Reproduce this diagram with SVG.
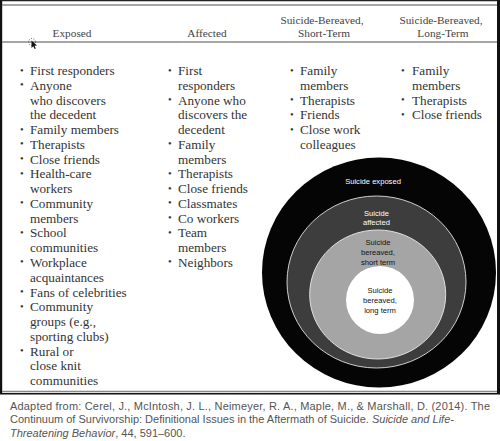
<svg xmlns="http://www.w3.org/2000/svg" width="500" height="441" viewBox="0 0 500 441">
<style>
.h{font-family:"Liberation Serif",serif;font-size:11.3px;fill:#444;text-anchor:middle}
.b{font-family:"Liberation Serif",serif;font-size:13.2px;fill:#333}
.bl{font-family:"Liberation Serif",serif;font-size:10.5px;fill:#333}
.c{font-family:"Liberation Sans",sans-serif;font-size:7.6px;text-anchor:middle}
.f{font-family:"Liberation Sans",sans-serif;font-size:11px;fill:#555}
.rule{stroke:#888;stroke-width:1.5}
</style>
<rect width="500" height="441" fill="#fff"/>
<g id="frame">
<rect x="0" y="0" width="2.2" height="394" fill="#111"/>
<rect x="497" y="0" width="3" height="394" fill="#111"/>
<line x1="2" y1="0.6" x2="497" y2="0.6" stroke="#222" stroke-width="1.2"/>
<line class="rule" x1="2" y1="5" x2="497" y2="5"/>
<line class="rule" x1="2" y1="42" x2="497" y2="42"/>
<line class="rule" x1="2" y1="391.5" x2="497" y2="391.5"/>
<line x1="0" y1="393.8" x2="500" y2="393.8" stroke="#111" stroke-width="1.6"/>
</g>
<g id="cursor">
<circle cx="32" cy="42" r="3.5" fill="none" stroke="#333" stroke-width="0.8" stroke-dasharray="1 1.5"/>
<path d="M31.5,40.5 L31.5,48 L33.3,46.3 L34.6,49 L35.8,48.4 L34.5,45.8 L37,45.6 Z" fill="#111"/>
</g>
<g id="headers">
<text class="h" x="72" y="37">Exposed</text>
<text class="h" x="207" y="37">Affected</text>
<text class="h" x="322" y="24">Suicide-Bereaved,</text>
<text class="h" x="324" y="37">Short-Term</text>
<text class="h" x="441" y="24">Suicide-Bereaved,</text>
<text class="h" x="443" y="37">Long-Term</text>
</g>
<g id="col-exposed">
<text class="b" x="30" y="75"><tspan x="30">First responders</tspan><tspan x="30" dy="14.77">Anyone</tspan><tspan x="30" dy="14.77">who discovers</tspan><tspan x="30" dy="14.77">the decedent</tspan><tspan x="30" dy="14.77">Family members</tspan><tspan x="30" dy="14.77">Therapists</tspan><tspan x="30" dy="14.77">Close friends</tspan><tspan x="30" dy="14.77">Health-care</tspan><tspan x="30" dy="14.77">workers</tspan><tspan x="30" dy="14.77">Community</tspan><tspan x="30" dy="14.77">members</tspan><tspan x="30" dy="14.77">School</tspan><tspan x="30" dy="14.77">communities</tspan><tspan x="30" dy="14.77">Workplace</tspan><tspan x="30" dy="14.77">acquaintances</tspan><tspan x="30" dy="14.77">Fans of celebrities</tspan><tspan x="30" dy="14.77">Community</tspan><tspan x="30" dy="14.77">groups (e.g.,</tspan><tspan x="30" dy="14.77">sporting clubs)</tspan><tspan x="30" dy="14.77">Rural or</tspan><tspan x="30" dy="14.77">close knit</tspan><tspan x="30" dy="14.77">communities</tspan></text>
<text class="bl" x="20" y="73.5">•</text>
<text class="bl" x="20" y="88.3">•</text>
<text class="bl" x="20" y="132.5">•</text>
<text class="bl" x="20" y="147.3">•</text>
<text class="bl" x="20" y="162">•</text>
<text class="bl" x="20" y="176.8">•</text>
<text class="bl" x="20" y="206.3">•</text>
<text class="bl" x="20" y="235.8">•</text>
<text class="bl" x="20" y="265.3">•</text>
<text class="bl" x="20" y="294.8">•</text>
<text class="bl" x="20" y="309.5">•</text>
<text class="bl" x="20" y="353.8">•</text>
</g>
<g id="col-affected">
<text class="b" x="178" y="75"><tspan x="178">First</tspan><tspan x="178" dy="14.77">responders</tspan><tspan x="178" dy="14.77">Anyone who</tspan><tspan x="178" dy="14.77">discovers the</tspan><tspan x="178" dy="14.77">decedent</tspan><tspan x="178" dy="14.77">Family</tspan><tspan x="178" dy="14.77">members</tspan><tspan x="178" dy="14.77">Therapists</tspan><tspan x="178" dy="14.77">Close friends</tspan><tspan x="178" dy="14.77">Classmates</tspan><tspan x="178" dy="14.77">Co workers</tspan><tspan x="178" dy="14.77">Team</tspan><tspan x="178" dy="14.77">members</tspan><tspan x="178" dy="14.77">Neighbors</tspan></text>
<text class="bl" x="168" y="73.5">•</text>
<text class="bl" x="168" y="103">•</text>
<text class="bl" x="168" y="147.3">•</text>
<text class="bl" x="168" y="176.8">•</text>
<text class="bl" x="168" y="191.5">•</text>
<text class="bl" x="168" y="206.3">•</text>
<text class="bl" x="168" y="221">•</text>
<text class="bl" x="168" y="235.8">•</text>
<text class="bl" x="168" y="265.3">•</text>
</g>
<g id="col-short">
<text class="b" x="300" y="75"><tspan x="300">Family</tspan><tspan x="300" dy="14.77">members</tspan><tspan x="300" dy="14.77">Therapists</tspan><tspan x="300" dy="14.77">Friends</tspan><tspan x="300" dy="14.77">Close work</tspan><tspan x="300" dy="14.77">colleagues</tspan></text>
<text class="bl" x="290" y="73.5">•</text>
<text class="bl" x="290" y="103">•</text>
<text class="bl" x="290" y="117.8">•</text>
<text class="bl" x="290" y="132.5">•</text>
</g>
<g id="col-long">
<text class="b" x="412" y="75"><tspan x="412">Family</tspan><tspan x="412" dy="14.77">members</tspan><tspan x="412" dy="14.77">Therapists</tspan><tspan x="412" dy="14.77">Close friends</tspan></text>
<text class="bl" x="401" y="73.5">•</text>
<text class="bl" x="401" y="103">•</text>
<text class="bl" x="401" y="117.8">•</text>
</g>
<g id="circle-exposed">
<ellipse cx="379" cy="272.5" rx="117" ry="115" fill="#050505"/>
<text class="c" x="373" y="183.5" fill="#fff">Suicide exposed</text>
</g>
<g id="circle-affected">
<ellipse cx="376.5" cy="282" rx="89.5" ry="86" fill="#3d3d3d" stroke="#cfcfcf" stroke-width="1"/>
<text class="c" x="376.5" y="215.5" fill="#fff">Suicide</text>
<text class="c" x="376.5" y="225" fill="#fff">affected</text>
</g>
<g id="circle-short">
<ellipse cx="377.7" cy="294.5" rx="68" ry="64.5" fill="#a5a5a5" stroke="#e0e0e0" stroke-width="1"/>
<text class="c" x="378" y="244.5" fill="#111">Suicide</text>
<text class="c" x="378" y="254.5" fill="#111">bereaved,</text>
<text class="c" x="378" y="264.5" fill="#111">short term</text>
</g>
<g id="circle-long">
<ellipse cx="380" cy="300" rx="34" ry="34" fill="#fff"/>
<text class="c" x="380" y="292.5" fill="#111">Suicide</text>
<text class="c" x="380" y="302.5" fill="#111">bereaved,</text>
<text class="c" x="380" y="312.5" fill="#111">long term</text>
</g>
<g id="citation">
<text class="f" x="10" y="409.5" textLength="480" lengthAdjust="spacing">Adapted from: Cerel, J., McIntosh, J. L., Neimeyer, R. A., Maple, M., &amp; Marshall, D. (2014). The</text>
<text class="f" x="10" y="423">Continuum of Survivorship: Definitional Issues in the Aftermath of Suicide. <tspan font-style="italic">Suicide and Life-</tspan></text>
<text class="f" x="10" y="436.5"><tspan font-style="italic">Threatening Behavior</tspan>, 44, 591–600.</text>
</g>
</svg>
